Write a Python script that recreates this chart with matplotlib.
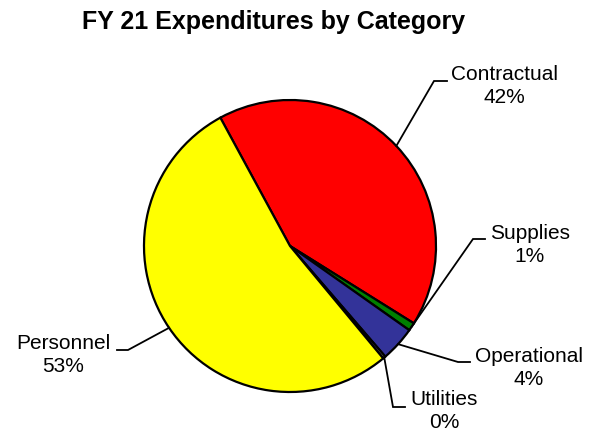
import matplotlib
matplotlib.use('Agg')
import matplotlib.pyplot as plt
import numpy as np

plt.rcParams['font.family'] = ['Liberation Sans', 'DejaVu Sans']

# FY 21 expenditures, share by category (percent)
categories = ['Contractual', 'Supplies', 'Operational', 'Utilities', 'Personnel']
shares = [41.8, 0.9, 3.9, 0.3, 53.1]
colors = ['#FF0000', '#008000', '#333399', '#808080', '#FFFF00']

W, H = 602, 432
fig = plt.figure(figsize=(W / 100, H / 100), dpi=100)
ax = fig.add_axes([0, 0, 1, 1])

# work in pixel units, y measured upward
cx, cy, r = 290, H - 246, 146
wedges, _ = ax.pie(shares, colors=colors, center=(cx, cy), radius=r,
                   startangle=118.5, counterclock=False,
                   wedgeprops=dict(edgecolor='black', linewidth=1.6))
ax.set_xlim(0, W)
ax.set_ylim(0, H)
ax.set_aspect('equal')
ax.axis('off')

# label layout: text centre, elbow and end of the leader (pixels from top-left)
layout = {
    'Contractual': ((504, 86), (434, 81), (447, 81)),
    'Supplies': ((530, 245), (473, 239), (485, 239)),
    'Operational': ((529, 368), (458, 362), (470, 362)),
    'Utilities': ((444, 411), (393, 407), (405, 407)),
    'Personnel': ((63, 355), (128, 350), (117, 350)),
}

for w, name, val in zip(wedges, categories, shares):
    mid = np.deg2rad((w.theta1 + w.theta2) / 2)
    sx, sy = cx + r * np.cos(mid), cy + r * np.sin(mid)
    (tx, ty), (ex, ey), (fx, fy) = layout[name]
    ax.plot([sx, ex, fx], [sy, H - ey, H - fy], color='black', lw=1.3,
            solid_joinstyle='miter')
    ax.text(tx, H - ty, f"{name}\n{val:.0f}%", ha='center', va='center',
            multialignment='center', fontsize=15, linespacing=1.22)

ax.text(274, H - 22, 'FY 21 Expenditures by Category', ha='center',
        va='center', fontsize=18, fontweight='bold')

fig.savefig('out.png', dpi=100)
